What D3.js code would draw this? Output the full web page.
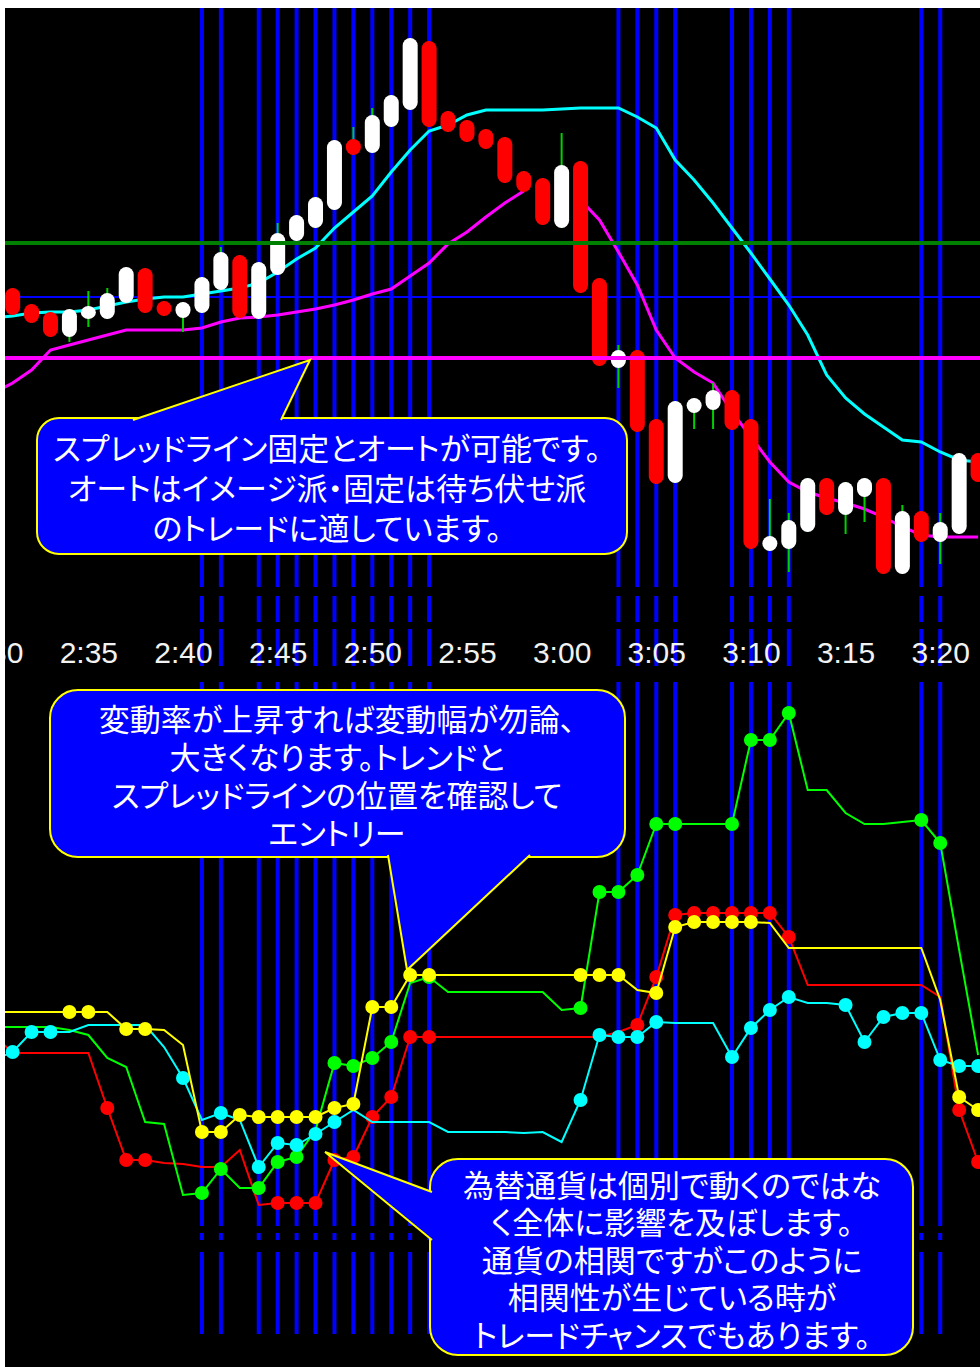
<!DOCTYPE html>
<html>
<head>
<meta charset="utf-8">
<script src="https://cdn.jsdelivr.net/npm/d3@7"></script>
<style>
  html, body { margin: 0; padding: 0; background: #fff; }
  svg { display: block; }
  .callout text { font-family: "Noto Sans CJK JP", sans-serif; fill: #fff; font-feature-settings: "palt"; }
</style>
</head>
<body>
<svg id="chart" width="980" height="1367"></svg>
<script>
// ---- data (1-minute bars, first candle at 2:31) ----
const open  = [112.312,112.296,112.288,112.263,112.282,112.281,112.297,112.332,112.299,112.282,
               112.287,112.310,112.345,112.281,112.325,112.359,112.372,112.390,112.461,112.447,
               112.473,112.490,112.559,112.489,112.480,112.471,112.463,112.429,112.422,112.372,
               112.439,112.322,112.232,112.250,112.181,112.117,112.187,112.190,112.210,112.181,
               112.049,112.051,112.068,112.122,112.085,112.103,112.122,112.026,112.089,112.058,
               112.066,112.147];
const high  = [112.312,112.296,112.288,112.291,112.309,112.312,112.333,112.332,112.299,112.298,
               112.323,112.353,112.345,112.338,112.377,112.385,112.403,112.460,112.473,112.492,
               112.505,112.562,112.559,112.489,112.480,112.471,112.463,112.429,112.422,112.467,
               112.439,112.322,112.255,112.250,112.181,112.199,112.202,112.217,112.210,112.181,
               112.101,112.087,112.122,112.122,112.118,112.122,112.122,112.095,112.089,112.087,
               112.147,112.147];
const low   = [112.285,112.277,112.263,112.258,112.273,112.281,112.297,112.287,112.284,112.268,
               112.287,112.310,112.282,112.281,112.325,112.359,112.372,112.390,112.445,112.447,
               112.473,112.490,112.473,112.468,112.458,112.451,112.417,112.408,112.375,112.372,
               112.307,112.234,112.212,112.168,112.116,112.117,112.171,112.171,112.170,112.051,
               112.049,112.028,112.068,112.085,112.066,112.078,112.026,112.026,112.058,112.036,
               112.066,112.118];
const close = [112.285,112.277,112.263,112.291,112.293,112.307,112.333,112.287,112.284,112.298,
               112.323,112.348,112.282,112.338,112.367,112.385,112.403,112.460,112.445,112.485,
               112.505,112.562,112.473,112.468,112.458,112.451,112.417,112.408,112.375,112.435,
               112.307,112.234,112.250,112.168,112.116,112.199,112.202,112.210,112.170,112.051,
               112.064,112.080,112.122,112.085,112.118,112.122,112.026,112.089,112.058,112.078,
               112.147,112.118];

// moving averages from 2:30 (null = not drawn)
const fastMA = [112.282,112.284,112.287,112.288,112.288,112.290,112.294,112.298,112.301,112.303,
                112.303,112.306,112.309,112.312,112.317,112.328,112.341,112.352,112.372,112.388,
                112.404,112.428,112.450,112.469,112.475,112.485,112.490,112.490,112.490,112.490,
                112.491,112.492,112.492,112.492,112.483,112.472,112.440,112.420,112.397,112.372,
                112.347,112.321,112.295,112.265,112.225,112.202,112.186,112.173,112.160,112.158,
                112.148,112.140,112.138];
const slowMA = [112.207,112.217,112.230,112.250,112.255,112.260,112.265,112.270,112.270,112.270,
                112.270,112.272,112.278,112.282,112.283,112.285,112.288,112.291,112.295,112.300,
                112.306,112.311,112.324,112.337,112.356,112.368,112.383,112.397,112.409,null,
                null,112.400,112.380,112.348,112.315,112.270,112.242,112.228,112.217,112.188,
                112.163,112.138,112.118,112.108,112.102,112.097,112.091,112.083,112.073,112.065,
                112.063,112.063,112.063];

// horizontal lines (green, blue, magenta)
const levelPrices = [112.357, 112.303, 112.242];

// vertical marker bars (minutes after 2:30)
const markerMinutes = [11,12,14,15,16,17,18,19,20,21,22,23,33,34,35,36,39,40,41,42,49,50];

// time labels (minutes after 2:30)
const tickMinutes = [0,5,10,15,20,25,30,35,40,45,50];

// lower panel, from 2:30
const redVals    = [305,287,287,287,287,287,232,180,180,177,176,173,173,190,135,137,137,137,180,183,
                    223,243,303,303,303,303,303,303,303,303,303,303,303,308,315,363,425,427,427,427,
                    427,427,403,355,355,355,355,355,355,355,343,230,178];
const greenVals  = [313,313,313,313,310,305,282,273,218,216,145,147,171,152,152,178,183,210,277,274,
                    282,298,357,363,348,348,348,348,348,348,330,332,448,448,465,516,516,516,516,516,
                    600,600,627,550,550,527,516,516,518,520,497,390,285];
const cyanVals   = [280,288,308,308,308,315,315,315,315,293,262,220,227,220,173,197,195,206,218,230,
                    218,218,218,218,208,208,208,208,207,208,198,240,305,303,303,318,317,317,317,283,
                    312,330,343,337,337,335,298,323,327,327,280,274,274];
const yellowVals = [328,328,328,328,328,328,328,311,311,310,295,208,208,225,223,223,223,223,232,236,
                    333,333,365,365,365,365,365,365,365,365,365,365,365,365,350,347,413,418,418,418,
                    418,417,392,392,392,392,392,392,392,392,340,243,230];

const redDots    = [6,7,8,15,16,17,18,19,20,21,22,23,34,35,36,37,38,39,40,41,42,51,52];
const greenDots  = [11,12,14,15,16,18,19,20,21,23,31,32,33,34,35,36,39,40,41,42,49,50];
const cyanDots   = [1,2,3,10,12,14,15,16,17,18,31,32,33,34,35,39,40,41,42,45,46,47,48,49,50,51,52];
const yellowDots = [4,5,7,8,11,12,13,14,15,16,17,18,19,20,21,22,23,31,32,33,35,36,37,38,39,40,51,52];

const notes = [
  ["スプレッドライン固定とオートが可能です。", "オートはイメージ派・固定は待ち伏せ派", "のトレードに適しています。"],
  ["変動率が上昇すれば変動幅が勿論、", "大きくなります。トレンドと", "スプレッドラインの位置を確認して", "エントリー"],
  ["為替通貨は個別で動くのではな", "く全体に影響を及ぼします。", "通貨の相関ですがこのように", "相関性が生じている時が", "トレードチャンスでもあります。"]
];

// ---- scales ----
const t0 = new Date(2020, 0, 6, 2, 30);
const minute = m => new Date(t0.getTime() + m * 60000);
const x = d3.scaleTime().domain([minute(0), minute(52)]).range([-6.3, 978.1]);
const yPrice = d3.scaleLinear().domain([112.0, 112.6]).range([600, 0]);
const yInd = d3.scaleLinear().domain([0, 660]).range([1340, 680]);

const svg = d3.select("#chart");
svg.append("rect").attr("width", 980).attr("height", 1367).attr("fill", "#fff");
svg.append("rect").attr("x", 5).attr("y", 8).attr("width", 975).attr("height", 1359).attr("fill", "#000");
svg.append("clipPath").attr("id", "area").append("rect")
  .attr("x", 5).attr("y", 8).attr("width", 975).attr("height", 1359);
const g = svg.append("g").attr("clip-path", "url(#area)");

// vertical markers, broken between the windows
const gaps = [[587, 596], [622, 629], [666, 682], [1226, 1233], [1240, 1252]];
const segs = [];
let from = 8;
gaps.forEach(([a, b]) => { segs.push([from, a]); from = b; });
segs.push([from, 1334]);
const markerSegs = markerMinutes.flatMap(m => segs.map(s => ({ m, s })));
g.append("g").selectAll("line").data(markerSegs).join("line")
  .attr("x1", d => x(minute(d.m))).attr("x2", d => x(minute(d.m)))
  .attr("y1", d => d.s[0]).attr("y2", d => d.s[1])
  .attr("stroke", "#0000ff").attr("stroke-width", 4);

// blue level sits behind the bars
g.append("line").attr("x1", 5).attr("x2", 980)
  .attr("y1", yPrice(levelPrices[1])).attr("y2", yPrice(levelPrices[1]))
  .attr("stroke", "#0000ff").attr("stroke-width", 2);

// moving averages
const maLine = d3.line().defined(d => d != null).x((d, i) => x(minute(i))).y(d => yPrice(d));
g.append("path").attr("d", maLine(slowMA)).attr("fill", "none")
  .attr("stroke", "#ff00ff").attr("stroke-width", 3);
g.append("path").attr("d", maLine(fastMA)).attr("fill", "none")
  .attr("stroke", "#00ffff").attr("stroke-width", 3);

// candles
const candles = open.map((o, i) => ({ t: minute(i + 1), o, h: high[i], l: low[i], c: close[i] }));
g.append("g").selectAll("line").data(candles).join("line")
  .attr("x1", d => x(d.t)).attr("x2", d => x(d.t))
  .attr("y1", d => yPrice(d.h)).attr("y2", d => yPrice(d.l))
  .attr("stroke", "#00d000").attr("stroke-width", 2);
g.append("g").selectAll("rect").data(candles).join("rect")
  .each(function (d) {
    let top = yPrice(Math.max(d.o, d.c)), bot = yPrice(Math.min(d.o, d.c));
    if (bot - top < 13) { const mid = (top + bot) / 2; top = mid - 6.5; bot = mid + 6.5; }
    d3.select(this).attr("x", x(d.t) - 7.5).attr("width", 15)
      .attr("y", top).attr("height", bot - top);
  })
  .attr("rx", 7.5).attr("ry", 7.5)
  .attr("fill", d => d.c >= d.o ? "#fff" : "#ff0000");

// green and magenta levels on top
g.append("line").attr("x1", 5).attr("x2", 980)
  .attr("y1", yPrice(levelPrices[0])).attr("y2", yPrice(levelPrices[0]))
  .attr("stroke", "#008000").attr("stroke-width", 4);
g.append("line").attr("x1", 5).attr("x2", 980)
  .attr("y1", yPrice(levelPrices[2])).attr("y2", yPrice(levelPrices[2]))
  .attr("stroke", "#ff00ff").attr("stroke-width", 4);

// time axis
const axis = d3.axisBottom(x)
  .tickValues(tickMinutes.map(minute))
  .tickFormat(d3.timeFormat("%-H:%M"))
  .tickSize(0).tickPadding(0);
const ax = g.append("g").attr("transform", "translate(0,652)").call(axis);
ax.select(".domain").remove();
ax.selectAll("text")
  .attr("dy", "0.36em").attr("fill", "#f2f2f2")
  .style("font-family", "'Liberation Sans', Arial, sans-serif")
  .style("font-size", "30px");

// lower panel
const series = [
  { color: "#ff0000", vals: redVals, dots: redDots },
  { color: "#00ff00", vals: greenVals, dots: greenDots },
  { color: "#00ffff", vals: cyanVals, dots: cyanDots },
  { color: "#ffff00", vals: yellowVals, dots: yellowDots }
];
const indLine = d3.line().x((d, i) => x(minute(i))).y(d => yInd(d));
series.forEach(s => {
  const sg = g.append("g");
  sg.append("path").attr("d", indLine(s.vals)).attr("fill", "none")
    .attr("stroke", s.color).attr("stroke-width", 2);
  sg.selectAll("circle").data(s.dots).join("circle")
    .attr("cx", m => x(minute(m))).attr("cy", m => yInd(s.vals[m]))
    .attr("r", 7).attr("fill", s.color);
});

// callouts
function callout(box, tip, base, lines, cx, y0, step, size) {
  const c = svg.append("g").attr("class", "callout");
  c.append("rect").attr("x", box[0]).attr("y", box[1]).attr("width", box[2]).attr("height", box[3])
    .attr("rx", box[4]).attr("fill", "#0000ff").attr("stroke", "#ffff00").attr("stroke-width", 2);
  c.append("path").attr("d", "M" + base[0] + "L" + tip + "L" + base[1] + "Z")
    .attr("fill", "#0000ff");
  c.append("path").attr("d", "M" + base[0] + "L" + tip + "L" + base[1])
    .attr("fill", "none").attr("stroke", "#ffff00").attr("stroke-width", 2);
  c.selectAll("text").data(lines).join("text")
    .attr("x", cx).attr("y", (d, i) => y0 + i * step)
    .attr("text-anchor", "middle").attr("dominant-baseline", "central")
    .style("font-size", size + "px").text(d => d);
}
callout([37, 418, 590, 136, 22], [310, 360], [[133, 420], [281, 420]], notes[0], 327, 446, 40, 31);
callout([50, 690, 575, 167, 28], [407, 970], [[388, 855], [530, 855]], notes[1], 337, 717, 38, 31);
callout([430, 1159, 483, 196, 28], [325, 1152], [[432, 1192], [432, 1240]], notes[2], 672, 1183, 37.5, 31);
</script>
</body>
</html>
